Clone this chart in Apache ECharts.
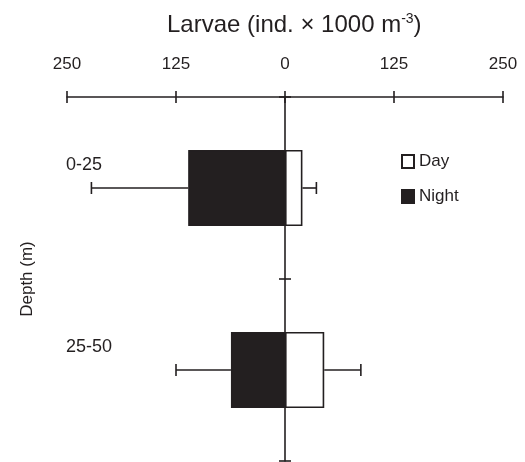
<!DOCTYPE html>
<html>
<head>
<meta charset="utf-8">
<script src="https://cdn.jsdelivr.net/npm/echarts@6/dist/echarts.min.js"></script>
<style>
html,body{margin:0;padding:0;background:#fff;}
#chart{width:525px;height:462px;}
</style>
</head>
<body>
<div id="chart"></div>
<script>
const categories = ['0-25', '25-50'];
const dayValues = [20, 45];
const nightValues = [-111, -62];
const dayErrEnds = [36, 87];
const nightErrEnds = [-222, -125];
const xMin = -250, xMax = 250, xInterval = 125;

const INK = '#231f20';
const FONT = '"Liberation Sans", Arial, Helvetica, sans-serif';

function errSeries(name, vals, ends) {
  return {
    type: 'custom',
    name: name + ' err',
    xAxisIndex: 0, yAxisIndex: 0,
    silent: true,
    z: 1,
    data: categories.map((c, i) => [vals[i], i, ends[i]]),
    encode: { x: [0, 2], y: 1 },
    renderItem: function (params, api) {
      const p0 = api.coord([api.value(0), api.value(1)]);
      const p1 = api.coord([api.value(2), api.value(1)]);
      const st = { stroke: INK, lineWidth: 1.6 };
      return {
        type: 'group',
        children: [
          { type: 'line', shape: { x1: p0[0], y1: p0[1], x2: p1[0], y2: p1[1] }, style: st },
          { type: 'line', shape: { x1: p1[0], y1: p1[1] - 6, x2: p1[0], y2: p1[1] + 6 }, style: st }
        ]
      };
    }
  };
}

const chart = echarts.init(document.getElementById('chart'), null, { renderer: 'canvas' });
const axisLineStyle = { color: INK, width: 1.6 };
chart.setOption({
  animation: false,
  backgroundColor: '#fff',
  textStyle: { fontFamily: FONT, color: INK },
  title: {
    text: 'Larvae (ind. × 1000 m{sup|-3})',
    left: 167, top: 12,
    padding: 0,
    textStyle: {
      fontFamily: FONT, fontSize: 24, fontWeight: 'normal', color: INK,
      rich: { sup: { fontFamily: FONT, fontSize: 14, color: INK, padding: [0, 0, 12, 0] } }
    }
  },
  legend: {
    data: ['Day', 'Night'],
    orient: 'vertical',
    left: 401, top: 153,
    padding: 0,
    itemWidth: 12, itemHeight: 13, itemGap: 18,
    icon: 'rect',
    textStyle: { fontFamily: FONT, fontSize: 17, color: INK }
  },
  grid: { left: 67, right: 22, top: 97, bottom: 1, containLabel: false },
  xAxis: [
    {
      type: 'value', position: 'top', min: xMin, max: xMax, interval: xInterval,
      axisLine: { show: true, onZero: false, lineStyle: axisLineStyle },
      axisTick: { show: true, inside: false, length: 6, lineStyle: axisLineStyle },
      axisLabel: { margin: 24, fontSize: 17, fontFamily: FONT, color: INK,
        formatter: v => String(Math.abs(v)) },
      splitLine: { show: false }
    },
    {
      type: 'value', position: 'top', min: xMin, max: xMax, interval: xInterval,
      axisLine: { show: false, onZero: false },
      axisTick: { show: true, inside: true, length: 6, lineStyle: axisLineStyle },
      axisLabel: { show: false },
      splitLine: { show: false }
    }
  ],
  yAxis: [
    {
      type: 'category', data: categories, inverse: true, position: 'left',
      axisLine: { show: true, onZero: true, lineStyle: axisLineStyle },
      axisTick: { show: true, inside: false, length: 6, lineStyle: axisLineStyle },
      axisLabel: { show: false }
    },
    {
      type: 'category', data: categories, inverse: true, position: 'left',
      axisLine: { show: false, onZero: true },
      axisTick: { show: true, inside: true, length: 6, lineStyle: axisLineStyle },
      axisLabel: { show: false }
    },
    {
      type: 'category', data: categories, inverse: true, position: 'left',
      axisLine: { show: false, onZero: false },
      axisTick: { show: false },
      axisLabel: { show: true, inside: true, margin: -1, align: 'left',
        formatter: v => '{a|' + v + '}\n{b|}',
        rich: {
          a: { fontSize: 18, fontFamily: FONT, color: INK, lineHeight: 20 },
          b: { fontSize: 10, lineHeight: 46 }
        }
      },
      name: 'Depth (m)', nameLocation: 'middle', nameRotate: 90, nameGap: 31,
      nameTextStyle: { fontSize: 17, fontFamily: FONT, color: INK }
    }
  ],
  series: [
    errSeries('Night', nightValues, nightErrEnds),
    errSeries('Day', dayValues, dayErrEnds),
    {
      name: 'Night', type: 'bar', stack: 'a', data: nightValues, barWidth: 76,
      xAxisIndex: 0, yAxisIndex: 0, z: 2,
      itemStyle: { color: INK, borderColor: INK, borderWidth: 1.2 }
    },
    {
      name: 'Day', type: 'bar', stack: 'a', data: dayValues, barWidth: 76,
      xAxisIndex: 0, yAxisIndex: 0, z: 2,
      itemStyle: { color: '#ffffff', borderColor: INK, borderWidth: 1.6 }
    }
  ]
});
</script>
</body>
</html>
